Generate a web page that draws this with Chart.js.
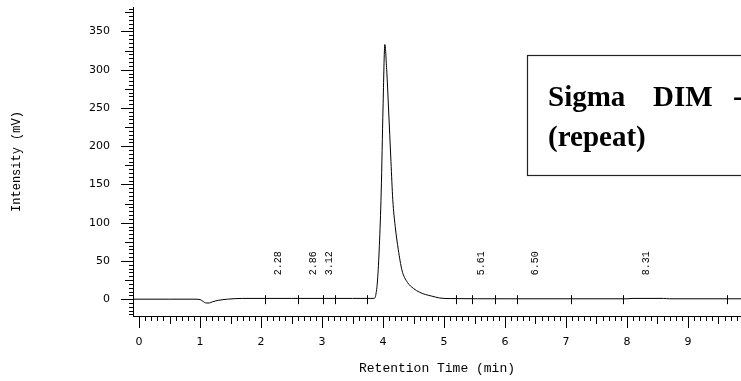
<!DOCTYPE html>
<html>
<head>
<meta charset="utf-8">
<script src="https://cdn.jsdelivr.net/npm/chart.js@4.4.1/dist/chart.umd.min.js"></script>
<style>
  html, body { margin: 0; padding: 0; background: #fff; }
  #wrap { width: 741px; height: 381px; }
</style>
</head>
<body>
<div id="wrap"><canvas id="chrom" width="741" height="381"></canvas></div>
<script>
// Chromatogram trace
const retentionTimes = [-0.1, 0.5, 0.9, 1.0, 1.05, 1.1, 1.15, 1.2, 1.3, 1.45, 1.7, 2.5, 3.5, 3.8,
    3.85, 3.88, 3.91, 3.94, 3.97, 4.0, 4.03, 4.06, 4.09, 4.13, 4.16, 4.2, 4.25, 4.31, 4.4, 4.5,
    4.6, 4.7, 4.8, 4.93, 5.1, 6.0, 7.0, 8.0, 8.1, 8.6, 8.7, 10.0];
const intensities = [0, 0, 0, -0.5, -3, -5, -5, -3.5, -1.5, 0, 1, 1, 1, 1,
    1, 5, 25, 70, 140, 250, 333, 300, 250, 180, 130, 95, 65, 38, 22, 14,
    9, 6, 4, 1.5, 0.8, 0.5, 0.5, 0.5, 1, 1, 0.5, 0.5];

// Integrated peak labels
const peakLabels = ['2.28', '2.86', '3.12', '5.61', '6.50', '8.31'];
// Integration event marks on the baseline
const eventTimes = [2.07, 2.61, 3.02, 3.21, 3.74, 5.20, 5.46, 5.84, 6.20, 7.08, 7.93, 9.64];

const xTickLabels = [0, 1, 2, 3, 4, 5, 6, 7, 8, 9];
const yTickLabels = [0, 50, 100, 150, 200, 250, 300, 350];

const sampleName = ['Sigma', 'DIM', '-'];
const sampleNote = '(repeat)';

// Minor ticks, peak labels, events and the annotation box
const extrasPlugin = {
    id: 'extras',
    afterDraw(chart) {
        const ctx = chart.ctx;
        const xs = chart.scales.x;
        const ys = chart.scales.y;
        const area = chart.chartArea;
        ctx.save();
        ctx.strokeStyle = '#000';
        ctx.lineWidth = 1;

        // x axis ticks every 0.1 min
        ctx.beginPath();
        for (let i = 0; i <= 98; i++) {
            const px = Math.round(xs.getPixelForValue(i / 10)) + 0.5;
            const len = i % 10 === 0 ? 12 : (i % 5 === 0 ? 8 : 5);
            ctx.moveTo(px, area.bottom);
            ctx.lineTo(px, area.bottom + len);
        }
        // y axis ticks every 5 mV
        for (let v = -20; v <= 380; v += 5) {
            const py = Math.round(ys.getPixelForValue(v)) + 0.5;
            const len = v % 50 === 0 ? 12 : (v % 25 === 0 ? 8 : 4);
            ctx.moveTo(area.left, py);
            ctx.lineTo(area.left - len, py);
        }
        ctx.stroke();

        // event marks on baseline
        const base = ys.getPixelForValue(0);
        ctx.beginPath();
        eventTimes.forEach(t => {
            const px = Math.round(xs.getPixelForValue(t)) + 0.5;
            ctx.moveTo(px, base - 4);
            ctx.lineTo(px, base + 5);
        });
        ctx.stroke();

        // rotated peak labels
        ctx.fillStyle = '#000';
        ctx.font = '10px "Liberation Mono"';
        ctx.textAlign = 'left';
        ctx.textBaseline = 'middle';
        peakLabels.forEach(lbl => {
            const px = xs.getPixelForValue(parseFloat(lbl));
            ctx.save();
            ctx.translate(px, base - 24);
            ctx.rotate(-Math.PI / 2);
            ctx.fillText(lbl, 0, 0);
            ctx.restore();
        });

        // sample annotation box
        ctx.strokeStyle = '#222';
        ctx.lineWidth = 1.2;
        ctx.strokeRect(527.5, 55.5, 260, 120);
        ctx.font = 'bold 29px "Liberation Serif"';
        ctx.textBaseline = 'alphabetic';
        const wordX = [548, 653, 733];
        sampleName.forEach((w, i) => ctx.fillText(w, wordX[i], 106));
        ctx.fillText(sampleNote, 548, 146);
        ctx.restore();
    }
};

const chrom = new Chart(document.getElementById('chrom'), {
    type: 'line',
    data: {
        datasets: [{
            data: retentionTimes.map((t, i) => ({ x: t, y: intensities[i] })),
            borderColor: '#000',
            borderWidth: 1,
            pointRadius: 0,
            fill: false,
            cubicInterpolationMode: 'monotone'
        }]
    },
    options: {
        responsive: false,
        animation: false,
        devicePixelRatio: 1,
        layout: { padding: { top: 7, left: 0, right: 0, bottom: 0 } },
        plugins: {
            legend: { display: false },
            tooltip: { enabled: false }
        },
        scales: {
            x: {
                type: 'linear',
                min: -0.1,
                max: 9.87,
                grid: { display: false, drawTicks: false },
                border: { display: true, color: '#000', width: 1 },
                afterBuildTicks: s => { s.ticks = xTickLabels.map(v => ({ value: v })); },
                afterFit: s => { s.height = 65; s.paddingLeft = 0; s.paddingRight = 0; },
                ticks: {
                    color: '#000',
                    font: { family: 'DejaVu Sans', size: 11 },
                    padding: 20,
                    maxRotation: 0,
                    autoSkip: false
                },
                title: {
                    display: true,
                    text: 'Retention Time (min)',
                    color: '#000',
                    font: { family: 'Liberation Mono', size: 13 },
                    padding: { top: 0, bottom: 5 }
                }
            },
            y: {
                min: -22,
                max: 382,
                grid: { display: false, drawTicks: false },
                border: { display: true, color: '#000', width: 1 },
                afterBuildTicks: s => { s.ticks = yTickLabels.map(v => ({ value: v })); },
                afterFit: s => { s.width = 133; s.paddingTop = 0; s.paddingBottom = 0; },
                ticks: {
                    color: '#000',
                    font: { family: 'DejaVu Sans', size: 11 },
                    padding: 23,
                    autoSkip: false
                },
                title: {
                    display: true,
                    text: 'Intensity (mV)',
                    color: '#000',
                    font: { family: 'Liberation Mono', size: 12 },
                    padding: { top: 10, bottom: 0 }
                }
            }
        }
    },
    plugins: [extrasPlugin]
});
</script>
</body>
</html>
